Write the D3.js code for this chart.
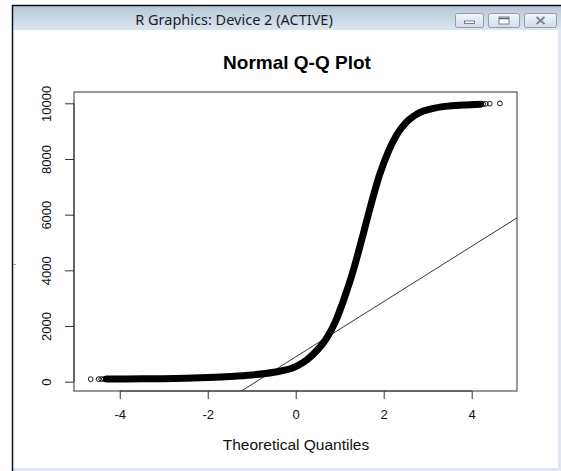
<!doctype html>
<html>
<head>
<meta charset="UTF-8">
<title>Normal Q-Q Plot</title>
<script src="https://cdn.jsdelivr.net/npm/d3@7"></script>
<style>
  html, body { margin: 0; padding: 0; background: #fff; }
  svg { display: block; }
</style>
</head>
<body>
<div id="chart"></div>
<script>
// theoretical quantile / sample quantile pairs
const theoQ = [-4.3, -3.5, -3.0, -2.5, -2.0, -1.5, -1.0, -0.5, 0.0, 0.25, 0.5, 0.7, 0.9, 1.1, 1.3, 1.5, 1.7, 1.9, 2.1, 2.3, 2.5, 2.7, 2.9, 3.1, 3.4, 3.8, 4.2];
const sampleQ = [95, 102, 110, 125, 150, 185, 240, 340, 540, 780, 1150, 1560, 2150, 2980, 3950, 5100, 6300, 7400, 8250, 8880, 9300, 9560, 9720, 9810, 9890, 9940, 9970];

// isolated points in the tails
const tailTheo = [-4.66, -4.48, -4.42, -4.36, -4.32, 4.2, 4.26, 4.32, 4.41, 4.64];
const tailSample = [92, 93, 94, 94, 95, 9972, 9975, 9980, 9985, 9995];

// quartiles used by qqline
const quartTheo = [-0.674, 0.674];
const quartSample = [224, 1562];

const xTicks = [-4, -2, 0, 2, 4];
const yTicks = [0, 2000, 4000, 6000, 8000, 10000];

const W = 561, H = 471;
const svg = d3.select("#chart").append("svg").attr("width", W).attr("height", H);

// ---- window frame ----
const defs = svg.append("defs");
const g1 = defs.append("linearGradient").attr("id", "bar").attr("x1", 0).attr("x2", 0).attr("y1", 0).attr("y2", 1);
g1.append("stop").attr("offset", "0%").attr("stop-color", "#b8c8d8");
g1.append("stop").attr("offset", "100%").attr("stop-color", "#dae6f2");
const g2 = defs.append("linearGradient").attr("id", "btn").attr("x1", 0).attr("x2", 0).attr("y1", 0).attr("y2", 1);
g2.append("stop").attr("offset", "0%").attr("stop-color", "#f1f5f9");
g2.append("stop").attr("offset", "100%").attr("stop-color", "#d3dde8");

svg.append("rect").attr("x", 12).attr("y", 5).attr("width", W - 12).attr("height", H - 5).attr("fill", "#dce7f3");
svg.append("rect").attr("x", 13).attr("y", 6).attr("width", W - 13).attr("height", 24).attr("fill", "url(#bar)");
svg.append("rect").attr("x", 13).attr("y", 30).attr("width", 545).attr("height", 438).attr("fill", "#fff");
svg.append("line").attr("x1", 12).attr("x2", W).attr("y1", 5.5).attr("y2", 5.5).attr("stroke", "#111").attr("stroke-width", 1.5);
svg.append("line").attr("x1", 12.5).attr("x2", 12.5).attr("y1", 5).attr("y2", H).attr("stroke", "#111").attr("stroke-width", 1.5);
svg.append("line").attr("x1", 13).attr("x2", 16).attr("y1", 264.5).attr("y2", 264.5).attr("stroke", "#8aa0b8");

svg.append("text").attr("x", 234).attr("y", 24.5).attr("text-anchor", "middle")
  .style("font-family", "'Noto Sans', 'DejaVu Sans', sans-serif").style("font-size", "14.5px").style("fill", "#1e1e1e")
  .text("R Graphics: Device 2 (ACTIVE)");

const btns = [[455, 484], [488, 520], [524, 557]];
btns.forEach(([a, b], i) => {
  svg.append("rect").attr("x", a + 0.5).attr("y", 13.5).attr("width", b - a - 1).attr("height", 14).attr("rx", 2)
    .attr("fill", "url(#btn)").attr("stroke", "#8e9cab");
  const cx = (a + b) / 2;
  if (i === 0) {
    svg.append("rect").attr("x", cx - 5).attr("y", 21).attr("width", 10).attr("height", 2.5).attr("fill", "#fff").attr("stroke", "#556575").attr("stroke-width", 0.8);
  } else if (i === 1) {
    svg.append("rect").attr("x", cx - 5).attr("y", 17).attr("width", 10).attr("height", 7).attr("fill", "#fff").attr("stroke", "#556575").attr("stroke-width", 0.8);
    svg.append("line").attr("x1", cx - 5).attr("x2", cx + 5).attr("y1", 18.5).attr("y2", 18.5).attr("stroke", "#556575").attr("stroke-width", 1.5);
  } else {
    svg.append("path").attr("d", `M${cx - 4},${17} L${cx + 4},${24} M${cx + 4},${17} L${cx - 4},${24}`)
      .attr("stroke", "#7b8794").attr("stroke-width", 2);
  }
});

// ---- plot ----
const x = d3.scaleLinear().domain([-5.04, 5.03]).range([74, 517]);
const y = d3.scaleLinear().domain([-334, 10406]).range([391, 92]);
const font = "Arial, 'Liberation Sans', sans-serif";

svg.append("text").attr("x", 297).attr("y", 68.5).attr("text-anchor", "middle")
  .style("font-family", font).style("font-weight", "bold").style("font-size", "19px").style("fill", "#000")
  .text("Normal Q-Q Plot");

svg.append("defs").append("clipPath").attr("id", "plotclip")
  .append("rect").attr("x", 74).attr("y", 92).attr("width", 443).attr("height", 299);

const plot = svg.append("g").attr("clip-path", "url(#plotclip)");

// qq line through the quartiles
const slope = (quartSample[1] - quartSample[0]) / (quartTheo[1] - quartTheo[0]);
const icpt = quartSample[0] - slope * quartTheo[0];
plot.append("line")
  .attr("x1", x(-6)).attr("y1", y(icpt + slope * -6))
  .attr("x2", x(6)).attr("y2", y(icpt + slope * 6))
  .attr("stroke", "#000").attr("stroke-width", 0.8);

// dense band of points
const pts = theoQ.map((t, i) => [t, sampleQ[i]]);
plot.append("path").datum(pts)
  .attr("d", d3.line().x(d => x(d[0])).y(d => y(d[1])).curve(d3.curveMonotoneX))
  .attr("fill", "none").attr("stroke", "#000").attr("stroke-width", 7)
  .attr("stroke-linecap", "round").attr("stroke-linejoin", "round");

plot.selectAll("circle.tail").data(tailTheo).join("circle").attr("class", "tail")
  .attr("cx", d => x(d)).attr("cy", (d, i) => y(tailSample[i])).attr("r", 2.4)
  .attr("fill", "none").attr("stroke", "#000").attr("stroke-width", 0.9);

// box
svg.append("rect").attr("x", 74).attr("y", 92).attr("width", 443).attr("height", 299)
  .attr("fill", "none").attr("stroke", "#333").attr("stroke-width", 1);

// x axis
const xa = svg.append("g").attr("transform", "translate(0,391)")
  .call(d3.axisBottom(x).tickValues(xTicks).tickSize(8).tickPadding(11).tickFormat(d3.format("d")));
xa.select(".domain").attr("stroke", "#333").attr("d", `M${x(-4)},0H${x(4)}`);
xa.selectAll(".tick line").attr("stroke", "#333");
xa.selectAll(".tick text").style("font-family", font).style("font-size", "13px").attr("fill", "#111")
  .text(d => d < 0 ? "-" + Math.abs(d) : d);

// y axis
const ya = svg.append("g").attr("transform", "translate(74,0)")
  .call(d3.axisLeft(y).tickValues(yTicks).tickSize(9).tickFormat(d3.format("d")));
ya.select(".domain").attr("stroke", "#333").attr("d", `M0,${y(0)}V${y(10000)}`);
ya.selectAll(".tick line").attr("stroke", "#333");
ya.selectAll(".tick text").style("font-family", font).style("font-size", "13px").attr("fill", "#111")
  .attr("x", null).attr("dy", null).attr("text-anchor", "middle")
  .attr("transform", "translate(-23,0) rotate(-90)");

svg.append("text").attr("x", 296).attr("y", 449.5).attr("text-anchor", "middle")
  .style("font-family", font).style("font-size", "15.5px").style("fill", "#111")
  .text("Theoretical Quantiles");
</script>
</body>
</html>
